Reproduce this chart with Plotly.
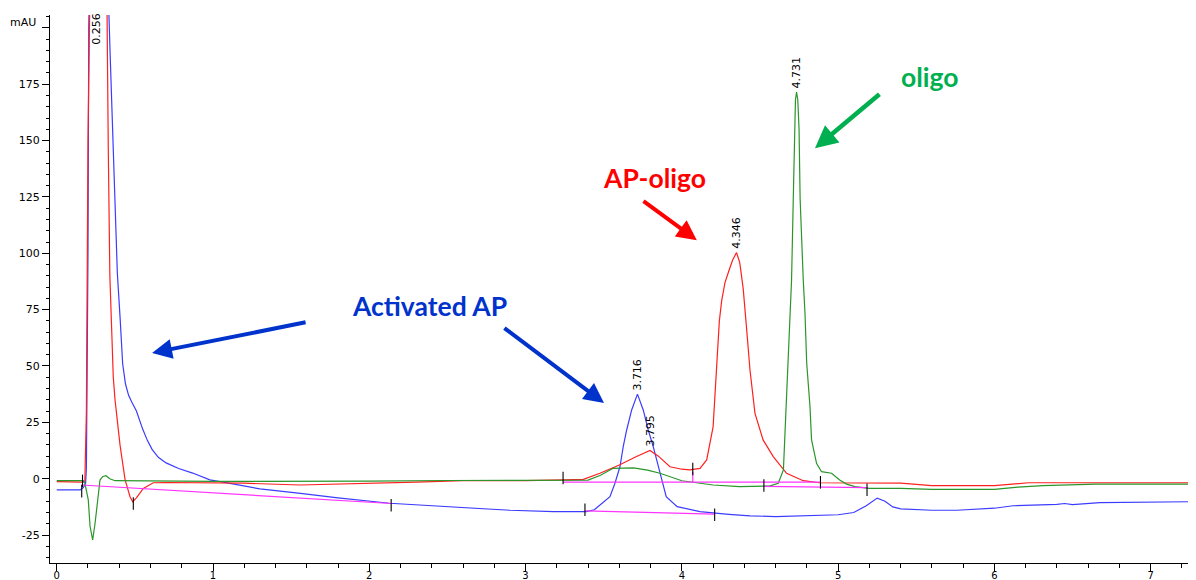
import plotly.graph_objects as go

# ---------------- data ----------------
# Activated AP trace (blue)
blue_t = [0.0, 0.15, 0.17, 0.185, 0.19, 0.195, 0.2, 0.205, 0.21, 0.26, 0.32, 0.33, 0.341, 0.352,
          0.362, 0.373, 0.388, 0.405, 0.422, 0.44, 0.46, 0.48, 0.51, 0.55, 0.58, 0.61, 0.65, 0.70,
          0.78, 0.87, 0.98, 1.1, 1.3, 1.56, 1.8, 2.13, 2.4, 2.62, 2.9, 3.18, 3.39, 3.44, 3.476,
          3.51, 3.54, 3.572, 3.604, 3.625, 3.647, 3.679, 3.716, 3.753, 3.785, 3.817, 3.86, 3.90,
          3.97, 4.116, 4.3, 4.436, 4.6, 4.8, 5.0, 5.1, 5.18, 5.25, 5.3, 5.35, 5.4, 5.6, 5.76,
          6.0, 6.12, 6.4, 6.45, 6.5, 6.55, 6.675, 7.29]
blue_v = [-5.0, -5.0, -4.0, -2.0, 5, 40, 100, 200, 300, 450, 260, 215, 190, 168,
          148, 119, 91, 72, 51, 42, 37, 34, 30, 22, 17, 13, 9.5, 7,
          4.5, 2.5, -0.5, -2, -4.5, -6.5, -8.5, -10.9, -12, -13.1, -14, -14.6, -14.6, -13.8, -11.7,
          -9.5, -8, -2, 5.3, 14.2, 21.6, 30.5, 37.5, 30.5, 21.6, 14.2, 2.4, -8,
          -12.4, -14.6, -15.8, -16.5, -16.8, -16.5, -16, -15, -12, -8.6, -10, -12.5, -13.4, -14, -14,
          -13.1, -12, -11.4, -11, -11.5, -11.3, -10.6, -10.2]

# AP-oligo trace (red)
red_t = [0.0, 0.15, 0.17, 0.18, 0.19, 0.2, 0.205, 0.256, 0.315, 0.32, 0.325, 0.33, 0.34, 0.352,
         0.362, 0.373, 0.384, 0.405, 0.437, 0.469, 0.486, 0.51, 0.554, 0.618, 0.7, 1.2, 1.556,
         2.0, 2.3, 2.6, 3.0, 3.24, 3.37, 3.476, 3.6, 3.7, 3.775, 3.796, 3.85, 3.924, 4.0, 4.052,
         4.116, 4.159, 4.2, 4.223, 4.24, 4.255, 4.276, 4.3, 4.325, 4.35, 4.37, 4.38, 4.393, 4.415,
         4.436, 4.468, 4.52, 4.585, 4.67, 4.777, 4.88, 5.4, 5.6, 6.0, 6.22, 7.29]
red_v = [-1.3, -1.3, -1.5, -1.0, 30, 150, 260, 450, 260, 210, 172, 146, 90, 63,
         45, 35, 27, 15, -0.3, -8, -10.2, -8.5, -4.3, -1.8, -1.7, -2.0, -2.8,
         -2.2, -1.5, -0.9, -0.9, -0.5, -0.3, 2.4, 6.1, 9.5, 12, 12.5, 10, 5.3, 4.2, 3.9,
         4.6, 8.3, 23, 52.7, 70, 79, 87, 92, 97, 100.3, 96, 91, 84, 66,
         48.2, 29, 17.2, 9.8, 2.4, -0.9, -1.8, -2.0, -3.1, -3.1, -1.8, -1.8]

# oligo trace (green)
green_t = [0.0, 0.17, 0.18, 0.202, 0.213, 0.23, 0.245, 0.256, 0.277, 0.295, 0.315, 0.34, 0.373,
           1.0, 1.5, 2.0, 2.5, 3.0, 3.4, 3.48, 3.56, 3.69, 3.78, 3.86, 3.95, 4.0, 4.2, 4.37,
           4.564, 4.617, 4.65, 4.66, 4.67, 4.68, 4.69, 4.702, 4.713, 4.72, 4.727, 4.734, 4.742,
           4.75, 4.757, 4.777, 4.788, 4.799, 4.82, 4.83, 4.862, 4.894, 4.958, 5.01, 5.054, 5.107,
           5.2, 5.4, 5.6, 6.0, 6.15, 6.31, 6.65, 7.29]
green_v = [-0.9, -0.9, -2.0, -9.4, -21, -27.2, -20, -13.9, -0.6, 1.0, 1.3, 0.0, -0.9,
           -1.2, -1.2, -1.1, -0.8, -0.7, -0.6, 1.5, 4.6, 4.8, 3.8, 2.4, 0.5, -0.9, -2.8, -3.5,
           -3.2, -2.0, 3.9, 21.6, 36.4, 51.2, 73.4, 88, 124, 155, 168, 171.5, 168,
           155, 124, 88, 73.4, 51.2, 31.9, 17.2, 6.8, 3.1, 2.4, -0.6, -2.4, -3.5,
           -4.3, -4.3, -4.7, -4.7, -3.7, -3.1, -2.4, -2.4]

# integration baselines (magenta): start t, start v, end t, end v
base_t0 = [0.16, 3.38, 3.24, 4.525, 4.07]
base_v0 = [-2.8, -14.3, -1.5, -3.4, 3.1]
base_t1 = [2.14, 4.21, 4.887, 5.185, 4.07]
base_v1 = [-11.0, -15.7, -1.5, -4.0, -1.5]

# integration event ticks (black)
evt_t = [0.165, 0.16, 0.49, 2.14, 3.24, 3.38, 4.07, 4.21, 4.525, 4.887, 5.185]
evt_v = [-1.0, -5.5, -11.0, -11.8, 0.3, -13.8, 4.3, -16.0, -3.0, -1.6, -4.9]

# retention-time labels
peak_labels = ["3.716", "3.795", "4.346", "4.731"]
peak_t = [3.716, 3.797, 4.348, 4.733]
peak_v = [37.5, 12.5, 100.3, 171.5]
first_label = "0.256"
first_label_t = 0.249

x_ticks = [0, 1, 2, 3, 4, 5, 6, 7]
y_ticks = [-25, 0, 25, 50, 75, 100, 125, 150, 175, 200]
y_ticktext = ["-25", "0", "25", "50", "75", "100", "125", "150", "175", ""]

# ---------------- figure ----------------
fig = go.Figure()
fig.add_trace(go.Scatter(x=blue_t, y=blue_v, mode="lines",
                         line=dict(color="#3c3cff", width=1.2), hoverinfo="skip"))
fig.add_trace(go.Scatter(x=red_t, y=red_v, mode="lines",
                         line=dict(color="#ff2020", width=1.2), hoverinfo="skip"))
fig.add_trace(go.Scatter(x=green_t, y=green_v, mode="lines",
                         line=dict(color="#2a962a", width=1.2), hoverinfo="skip"))

bx, by = [], []
for a, b, c, d in zip(base_t0, base_v0, base_t1, base_v1):
    bx += [a, c, None]
    by += [b, d, None]
fig.add_trace(go.Scatter(x=bx, y=by, mode="lines",
                         line=dict(color="#ff33ff", width=1.2), hoverinfo="skip"))
fig.add_trace(go.Scatter(x=evt_t, y=evt_v, mode="markers",
                         marker=dict(symbol="line-ns", size=9,
                                     line=dict(color="black", width=1.1)),
                         hoverinfo="skip"))

annotations = []
lab_font = dict(family="DejaVu Sans", size=11, color="black")
for txt, t, v in zip(peak_labels, peak_t, peak_v):
    annotations.append(dict(x=t, y=v, xref="x", yref="y", text=txt, showarrow=False,
                            textangle=-90, xanchor="center", yanchor="bottom", yshift=3,
                            font=lab_font, borderpad=0))
annotations.append(dict(x=first_label_t, y=1.0, xref="x", yref="paper", text=first_label,
                        showarrow=False, textangle=-90, xanchor="center", yanchor="top",
                        yshift=3, font=dict(family="DejaVu Sans", size=11, color="black"),
                        borderpad=0))
annotations.append(dict(x=-0.0105, y=0.987, xref="paper", yref="paper", text="mAU",
                        showarrow=False, xanchor="right", yanchor="middle", font=lab_font))

# callout texts and arrows
blue_c, red_c, green_c = "#0033cc", "#ff0000", "#00b050"
call_font = "Lato"
annotations += [
    dict(x=2.388, y=76.6, xref="x", yref="y", text="<b>Activated AP</b>", showarrow=False,
         font=dict(family=call_font, size=26.5, color=blue_c)),
    dict(x=3.828, y=133.4, xref="x", yref="y", text="<b>AP-oligo</b>", showarrow=False,
         font=dict(family=call_font, size=26.5, color=red_c)),
    dict(x=5.587, y=178.2, xref="x", yref="y", text="<b>oligo</b>", showarrow=False,
         font=dict(family=call_font, size=26.5, color=green_c)),
    dict(x=0.61, y=55.8, ax=1.602, ay=69.5, xref="x", yref="y", axref="x", ayref="y",
         text="", showarrow=True, arrowhead=2, arrowsize=1, arrowwidth=4, arrowcolor=blue_c),
    dict(x=3.502, y=33.6, ax=2.855, ay=67.3, xref="x", yref="y", axref="x", ayref="y",
         text="", showarrow=True, arrowhead=2, arrowsize=1, arrowwidth=4, arrowcolor=blue_c),
    dict(x=4.096, y=105.8, ax=3.745, ay=123.6, xref="x", yref="y", axref="x", ayref="y",
         text="", showarrow=True, arrowhead=2, arrowsize=1, arrowwidth=4, arrowcolor=red_c),
    dict(x=4.852, y=146.6, ax=5.274, ay=171.1, xref="x", yref="y", axref="x", ayref="y",
         text="", showarrow=True, arrowhead=2, arrowsize=1, arrowwidth=4.5, arrowcolor=green_c),
]

# the page body has an 8px default margin, so the figure is sized to fit the window
fig.update_layout(
    width=1188, height=572,
    margin=dict(l=42, r=0, t=7, b=17, autoexpand=False),
    paper_bgcolor="white", plot_bgcolor="white",
    showlegend=False,
    annotations=annotations,
    font=dict(family="DejaVu Sans", size=11, color="black"),
)
fig.update_xaxes(range=[-0.043, 7.29], tickmode="array", tickvals=x_ticks,
                 ticks="outside", ticklen=7, tickcolor="black", showline=True,
                 linecolor="black", linewidth=1, showgrid=False, zeroline=False,
                 automargin=False, ticklabelstandoff=-4,
                 tickfont=dict(family="DejaVu Sans", size=10, color="black"),
                 minor=dict(dtick=0.2, tick0=0, ticks="outside", ticklen=4,
                            tickcolor="black", showgrid=False))
fig.update_yaxes(range=[-37.4, 205.7], tickmode="array", tickvals=y_ticks,
                 ticktext=y_ticktext, ticks="outside", ticklen=7, tickcolor="black",
                 showline=True, linecolor="black", linewidth=1, showgrid=False,
                 zeroline=False, automargin=False,
                 tickfont=dict(family="DejaVu Sans", size=11, color="black"),
                 minor=dict(dtick=5, tick0=0, ticks="outside", ticklen=3,
                            tickcolor="black", showgrid=False))

fig.write_html("out.html")
